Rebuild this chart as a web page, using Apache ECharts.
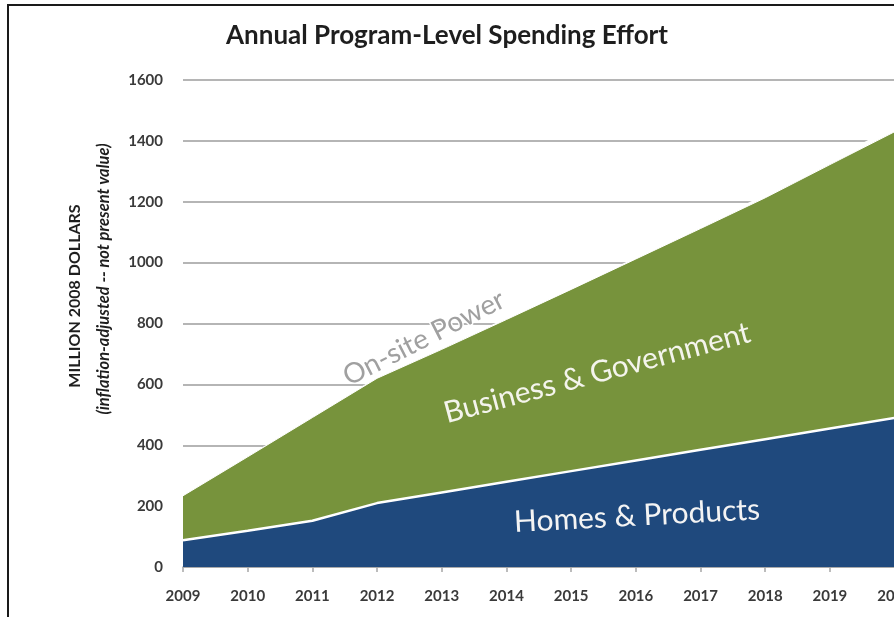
<!DOCTYPE html>
<html>
<head>
<meta charset="utf-8">
<script src="https://cdn.jsdelivr.net/npm/echarts@6/dist/echarts.min.js"></script>
<style>
  html, body { margin: 0; padding: 0; background: #fff; }
  #chart { width: 894px; height: 617px; }
</style>
</head>
<body>
<div id="chart"></div>
<script>
// Years on the category axis
const years = ['2009', '2010', '2011', '2012', '2013', '2014', '2015', '2016', '2017', '2018', '2019', '2020'];

// Annual spending by program segment, million 2008 dollars (stacked)
const homesProducts = [88, 119, 152, 210, 245, 280, 315, 350, 385, 420, 455, 490];
const businessGovernment = [146, 243, 339, 410, 470, 533, 597, 662, 727, 793, 867, 940];
const onsitePower = [2, 2, 3, 4, 4, 5, 5, 5, 8, 11, 15, 18];

// Value axis ticks
const yTicks = [0, 200, 400, 600, 800, 1000, 1200, 1400, 1600];

const FONT = 'Lato, "Open Sans", sans-serif';

const chart = echarts.init(document.getElementById('chart'), null, { renderer: 'canvas' });

chart.setOption({
  backgroundColor: '#ffffff',
  animation: false,
  title: {
    text: 'Annual Program-Level Spending Effort',
    left: 'center',
    top: 18,
    textStyle: { fontFamily: FONT, fontSize: 26, fontWeight: 'bold', color: '#1e1e1e' }
  },
  grid: {
    left: 183, top: 80, width: 711.6, height: 487,
    containLabel: false,
    outerBoundsMode: 'none'
  },
  xAxis: {
    type: 'category',
    data: years,
    boundaryGap: false,
    axisLine: { show: true, lineStyle: { color: '#a6a6a6', width: 1.5 } },
    axisTick: { show: true, length: 5, lineStyle: { color: '#a6a6a6', width: 1.5 } },
    axisLabel: { margin: 22, fontFamily: FONT, fontSize: 15, fontWeight: 'bold', color: '#3a3a3a' },
    splitLine: { show: false }
  },
  yAxis: {
    type: 'value',
    min: yTicks[0],
    max: yTicks[yTicks.length - 1],
    interval: yTicks[1] - yTicks[0],
    axisLine: { show: false },
    axisTick: { show: false },
    axisLabel: {
      margin: 20, fontFamily: FONT, fontSize: 15, fontWeight: 'bold', color: '#3a3a3a',
      formatter: (v) => String(v)
    },
    splitLine: { show: true, lineStyle: { color: '#b5b5b5', width: 2 } }
  },
  series: [
    {
      name: 'Homes & Products',
      type: 'line',
      stack: 'total',
      data: homesProducts,
      symbol: 'none',
      lineStyle: { color: '#ffffff', width: 2.5 },
      areaStyle: { color: '#1f497d', opacity: 1 },
      z: 3
    },
    {
      name: 'Business & Government',
      type: 'line',
      stack: 'total',
      data: businessGovernment,
      symbol: 'none',
      lineStyle: { color: '#ffffff', width: 1 },
      areaStyle: { color: '#77933c', opacity: 1 },
      z: 2
    },
    {
      name: 'On-site Power',
      type: 'line',
      stack: 'total',
      data: onsitePower,
      symbol: 'none',
      lineStyle: { width: 0 },
      areaStyle: { color: '#ffffff', opacity: 1 },
      z: 1
    }
  ],
  graphic: [
    // outer frame: left and top edges
    {
      type: 'line',
      shape: { x1: 8, y1: 5, x2: 8, y2: 640 },
      style: { stroke: '#1a1a1a', lineWidth: 2 },
      z: 100
    },
    {
      type: 'line',
      shape: { x1: 7, y1: 5, x2: 900, y2: 5 },
      style: { stroke: '#1a1a1a', lineWidth: 2 },
      z: 100
    },
    // value axis title (two rotated lines)
    {
      type: 'text',
      x: 75, y: 296,
      rotation: Math.PI / 2,
      style: {
        text: 'MILLION 2008 DOLLARS',
        font: 'bold 16px ' + FONT,
        fill: '#1e1e1e',
        textAlign: 'center',
        textVerticalAlign: 'middle'
      }
    },
    {
      type: 'text',
      x: 104, y: 279,
      rotation: Math.PI / 2,
      style: {
        text: '(inflation-adjusted -- not present value)',
        font: 'italic bold 16.5px ' + FONT,
        fill: '#1e1e1e',
        textAlign: 'center',
        textVerticalAlign: 'middle'
      }
    },
    // area labels
    {
      type: 'text',
      x: 597, y: 373,
      rotation: 15 * Math.PI / 180,
      style: {
        text: 'Business & Government',
        font: '30px ' + FONT,
        fill: '#f4f4ec',
        textAlign: 'center',
        textVerticalAlign: 'middle'
      },
      z: 50
    },
    {
      type: 'text',
      x: 637, y: 516,
      rotation: 3 * Math.PI / 180,
      style: {
        text: 'Homes & Products',
        font: '30px ' + FONT,
        fill: '#f4f4f4',
        textAlign: 'center',
        textVerticalAlign: 'middle'
      },
      z: 50
    },
    {
      type: 'text',
      x: 424, y: 338,
      rotation: 27 * Math.PI / 180,
      style: {
        text: 'On-site Power',
        font: '28px ' + FONT,
        fill: '#a0a0a0',
        stroke: '#ffffff',
        lineWidth: 3,
        textAlign: 'center',
        textVerticalAlign: 'middle'
      },
      z: 50
    }
  ]
});
</script>
</body>
</html>
